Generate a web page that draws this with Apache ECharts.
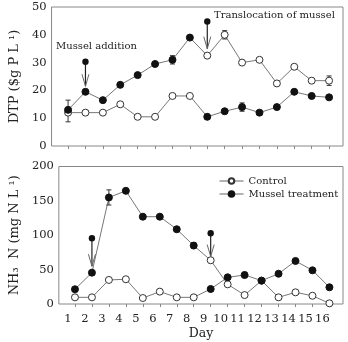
<!DOCTYPE html>
<html><head><meta charset="utf-8">
<script src="https://cdn.jsdelivr.net/npm/echarts@6/dist/echarts.min.js"></script>
<style>html,body{margin:0;padding:0;background:#fff}#c{width:348px;height:342px}</style>
</head><body><div id="c"></div>
<script>
// ---- data ----
const days = [1,2,3,4,5,6,7,8,9,10,11,12,13,14,15,16];
const dayLabels = ['1','2','3','4','5','6','7','8','9','10','11','12','13','14','15','16'];
const dtpControl = [12,12,12,15,10.5,10.5,18,18,32.5,40,30,31,22.5,28.5,23.5,23.5];
const dtpMussel  = [13,19.5,16.5,22,25.5,29.5,31,39,10.5,12.5,14,12,14,19.5,18,17.5];
const nh3Control = [9.7,9.7,35,36,8.7,18,9.7,9.7,63.6,28.6,13,34,9.7,17,12,1];
const nh3Mussel  = [21.4,45.6,155,164.6,127,127,108.7,85,21.8,38.8,42.2,34,44,62.6,49,24.3];
const swapDay = 9; // translocation: treatments swap from this day
// error bars: [day, low, high]
const dtpErr = [[1,8.7,16.5],[7,29.5,32.5],[10,38.5,41.5],[11,12.5,15.5],[16,21.8,25.2]];
const nh3Err = [[2,42.5,48.5],[3,144,166],[4,162,167],[8,81,89],[11,38.5,46],[13,6.5,12.5]];
// arrows: [day, from, to]
const dtpArrows = [[2,30.3,21.5],[9,44.8,35]];
const nh3Arrows = [[2,95.6,55],[9,103,69]];
const dtpTicks = {min:0, max:50, interval:10};
const nh3Ticks = {min:0, max:200, interval:50};

// ---- build ----
const FONT = 'DejaVu Serif';
function pairs(arr){ return days.map((d,i)=>[d,arr[i]]); }
function path(a,b){ return days.map((d,i)=>[d, d < swapDay ? a[i] : b[i]]); }

function errSeries(data, xi){
  return {type:'custom', xAxisIndex:xi, yAxisIndex:xi, z:3, silent:true, data:data,
    renderItem:function(params, api){
      const lo = api.coord([api.value(0), api.value(1)]);
      const hi = api.coord([api.value(0), api.value(2)]);
      const st = {stroke:'#333', lineWidth:1};
      return {type:'group', children:[
        {type:'line', shape:{x1:lo[0],y1:lo[1],x2:hi[0],y2:hi[1]}, style:st},
        {type:'line', shape:{x1:lo[0]-2.5,y1:lo[1],x2:lo[0]+2.5,y2:lo[1]}, style:st},
        {type:'line', shape:{x1:hi[0]-2.5,y1:hi[1],x2:hi[0]+2.5,y2:hi[1]}, style:st}
      ]};
    }};
}
function arrowSeries(data, xi){
  return {type:'custom', xAxisIndex:xi, yAxisIndex:xi, z:6, silent:true, data:data,
    renderItem:function(params, api){
      const a = api.coord([api.value(0), api.value(1)]);
      const b = api.coord([api.value(0), api.value(2)]);
      const st = {stroke:'#222', lineWidth:1.2, fill:null};
      return {type:'group', children:[
        {type:'line', shape:{x1:a[0],y1:a[1],x2:b[0],y2:b[1]}, style:st},
        {type:'polyline', shape:{points:[[b[0]-3.5,b[1]-12],[b[0],b[1]],[b[0]+3.5,b[1]-12]]}, style:{stroke:'#666', lineWidth:1, fill:null}},
        {type:'circle', shape:{cx:a[0], cy:a[1], r:3.2}, style:{fill:'#111'}}
      ]};
    }};
}
function pathSeries(data, xi){
  return {type:'line', xAxisIndex:xi, yAxisIndex:xi, data:data, symbol:'none', silent:true, z:2,
    lineStyle:{color:'#777', width:1}};
}
function markerSeries(name, data, xi, filled){
  return {type:'line', name:name, xAxisIndex:xi, yAxisIndex:xi, data:data, z:5,
    symbol:'circle', symbolSize:7, lineStyle:{opacity:0, width:0},
    itemStyle: filled ? {color:'#111', borderColor:'#111', borderWidth:1} : {color:'#fff', borderColor:'#333', borderWidth:1}};
}

const xBase = {type:'value', min:0.05, max:16.8, splitLine:{show:false}, axisLine:{show:false},
  axisTick:{show:true, customValues:days, length:3, lineStyle:{color:'#888'}}};
const yBase = {type:'value', splitLine:{show:false}, axisLine:{show:false}, axisTick:{show:false},
  axisLabel:{fontFamily:FONT, fontSize:11.5, color:'#222', margin:5},
  nameLocation:'middle', nameRotate:90, nameTextStyle:{fontFamily:FONT, fontSize:13, color:'#222'}};

const option = {
  animation:false,
  backgroundColor:'#fff',
  grid:[
    {left:49, right:5, top:7, height:139, show:true, borderColor:'#888', borderWidth:1},
    {left:49, right:5, top:166.5, height:137.5, show:true, borderColor:'#888', borderWidth:1}
  ],
  xAxis:[
    Object.assign({}, xBase, {gridIndex:0, axisLabel:{show:false}}),
    Object.assign({}, xBase, {gridIndex:1,
      axisLabel:{show:true, customValues:days, formatter:(v)=>dayLabels[Math.round(v)-1], fontFamily:FONT, fontSize:11.5, color:'#222', margin:9, padding:[0,14,0,0]},
      name:'Day', nameLocation:'middle', nameGap:23, nameTextStyle:{fontFamily:FONT, fontSize:12.5, color:'#222'}})
  ],
  yAxis:[
    Object.assign({}, yBase, {gridIndex:0, min:dtpTicks.min, max:dtpTicks.max, interval:dtpTicks.interval,
      name:'DTP ($g P L ¹)', nameGap:30}),
    Object.assign({}, yBase, {gridIndex:1, min:nh3Ticks.min, max:nh3Ticks.max, interval:nh3Ticks.interval,
      name:'NH₃  N (mg N L ¹)', nameGap:30})
  ],
  legend:{orient:'vertical', left:219, top:176, itemWidth:24, itemHeight:7, itemGap:3, padding:0,
    data:['Control','Mussel treatment'],
    lineStyle:{color:'#666', width:1, opacity:1},
    textStyle:{fontFamily:FONT, fontSize:10, color:'#222'}},
  graphic:[
    {type:'text', left:56, top:41, style:{text:'Mussel addition', fontFamily:FONT, fontSize:10, fill:'#222'}},
    {type:'text', left:214, top:10, style:{text:'Translocation of mussel', fontFamily:FONT, fontSize:10, fill:'#222'}}
  ],
  series:[
    pathSeries(path(dtpMussel, dtpControl), 0),
    pathSeries(path(dtpControl, dtpMussel), 0),
    errSeries(dtpErr, 0),
    markerSeries('Control', pairs(dtpControl), 0, false),
    markerSeries('Mussel treatment', pairs(dtpMussel), 0, true),
    arrowSeries(dtpArrows, 0),
    pathSeries(path(nh3Mussel, nh3Control), 1),
    pathSeries(path(nh3Control, nh3Mussel), 1),
    errSeries(nh3Err, 1),
    markerSeries('Control', pairs(nh3Control), 1, false),
    markerSeries('Mussel treatment', pairs(nh3Mussel), 1, true),
    arrowSeries(nh3Arrows, 1)
  ]
};
const chart = echarts.init(document.getElementById('c'), null, {renderer:'canvas'});
chart.setOption(option);
</script></body></html>
